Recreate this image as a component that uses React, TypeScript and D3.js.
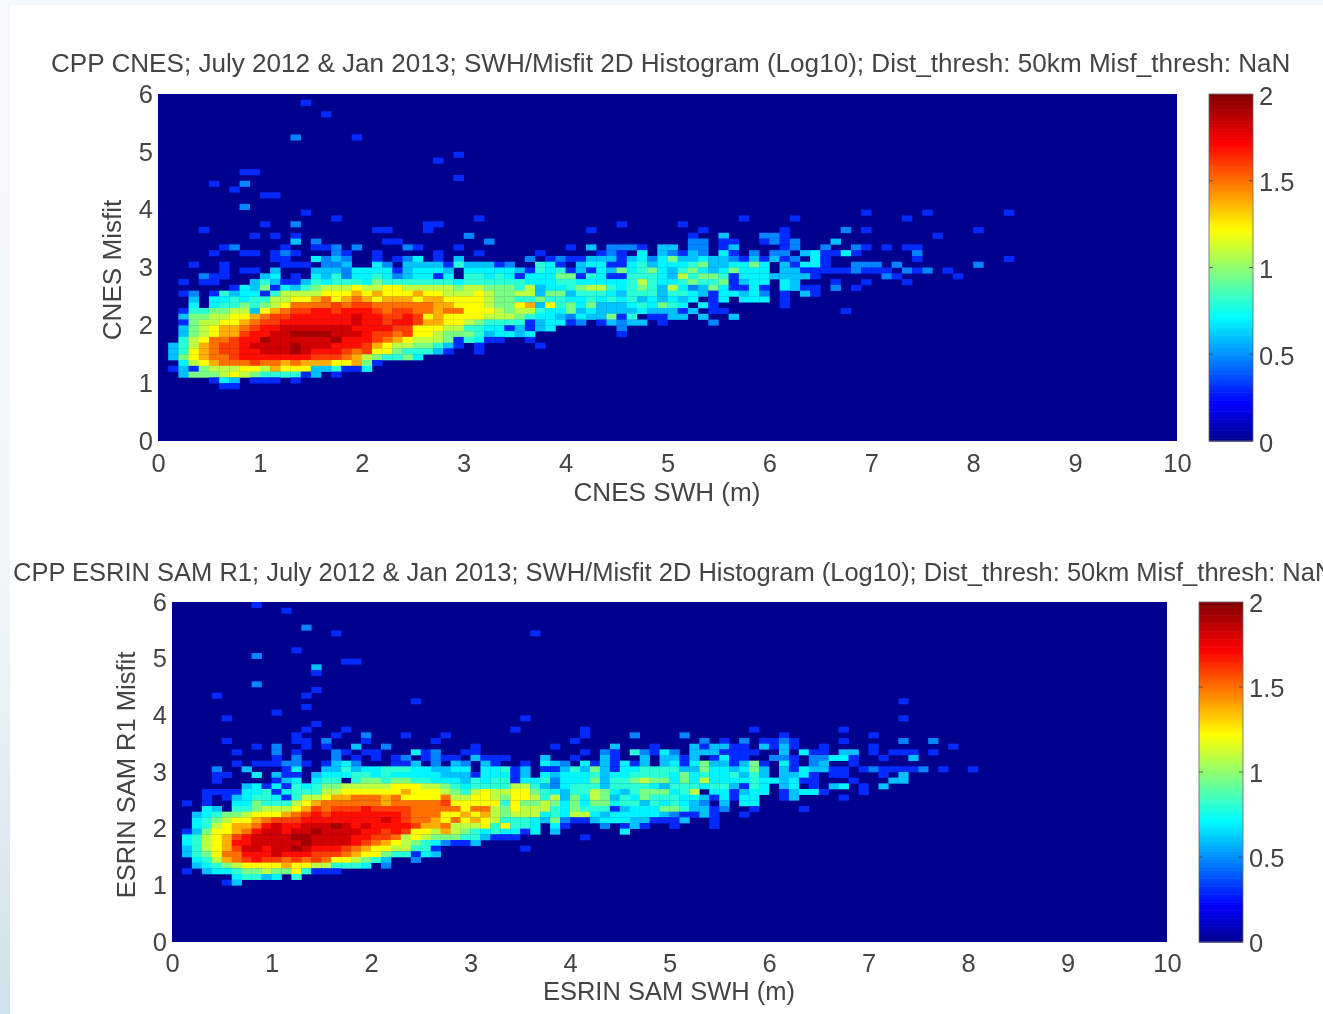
import React, { useRef, useEffect } from "react";
import * as d3 from "d3";

// Level codes, as log10(count) values.
const levelValues: Record<string, number> = {
  "1": 0.3, "2": 0.48, "3": 0.6, "4": 0.7, "5": 0.8, "6": 0.96, "7": 1.09,
  "8": 1.22, "9": 1.38, a: 1.5, b: 1.6, c: 1.7, d: 1.82, e: 1.92,
};

// One entry per misfit bin, top (5.9-6.0) down. Each group is "firstSwhBin:codes".
const cnesRows = [
  "", "14:1", "", "16:1", "", "", "", "13:2 19:1", "", "",
  "29:1", "27:1", "", "8:11", "29:1", "5:1 8:2", "7:1", "10:11", "", "8:2",
  "14:1 69:1 75:1 83:1",
  "17:1 31:1 57:1 62:1 73:1",
  "10:1 13:2 26:11 45:1 51:1",
  "4:1 21:11 26:1 42:1 53:1 61:1 67:2 69:1 80:1",
  "9:1 11:1 13:1 30:2 52:1 55:3 59:221 76:1",
  "13:3 15:2 22:11 32:2 52:22 55:11 59:1212 66:3",
  "6:12 12:1 15:112 19:2 24:21 29:1 40:1 42:3 44:2221 49:33 52:22 55:13 61:12 65:2 68:21 71:1 73:11",
  "5:1 8:11 11:121 17:21 21:1 27:1 31:1 37:1 43:121 47:4 49:32132 55:41 58:2 60:22 63:34 65:11 67:41 74:2",
  "11:11 15:4232 21:1 23:124 27:1 29:3 36:2.12113331342463343321313" + "12.41 74:1 83:1",
  "3:1 6:1 12:111 16:223 21:42 24:33331533312 37:541.344114" + "5344456334" + "464.31441 68:222 72:2 80:2",
  "6:1 8:11 11:3 15:33324" + "44413" + "4443." + "44444" + "31545" + "13143" + "64564" + "35643" + "46444" + ".3311" + "11121" + "11 73:212 77:1",
  "4:211 10:34 13:1 15:43524" + "45423" + "4414." + "55454" + "14446" + "61541" + "15554" + "37566" + "51444" + "33331 71:21 78:1",
  "2:1 4:11 9:353113" + "54555" + "46555" + "55554" + "55555" + "54445" + "54444" + "45754" + "45655" + "61344" + ".43 66:1 69:1 73:1",
  "7:14361435" + "67778" + "77887" + "77776" + "77666" + "57344" + "56775" + "45653" + "74236" + "41141" + ".4311 66:2 68:1",
  "2:12 5:1534415777" + "78889" + "89888" + "98877" + "78766" + "77366" + "35554" + "35553" + "55431" + "44342" + ".1.31",
  "3:3 5:4454557788" + "9a89a" + "98999" + "89988" + "88766" + "55655" + "44545" + "45343" + "434.1" + "4.444" + ".1",
  "3:4 5:45565678aa" + "aabab" + "baaaa" + "aa998" + "88766" + "89385" + "64633" + "34546" + "54.41 61:1",
  "2:1556677389abb" + "ccbcc" + "cbabb" + "aa9aa" + "88876" + "77544" + "63433" + "33433" + "313.1" + "1 67:1",
  "2:36677889abbcc" + "ccccd" + "ccbbc" + "b8988" + "88777" + "65443" + "24336" + "15.11" + "33.3 56:3",
  "2:1677889abbccc" + "ccccd" + "ccbcc" + "b9988" + "76555" + "51344" + "12.13" + "233.1 54:2",
  "2:367899abccddd" + "ddddc" + "cccbb" + "88877" + "55441" + "3134 45:2",
  "2:367899bccddee" + "eeddd" + "cbbab" + "88766" + "65344" + "34 45:1",
  "2:578aabccedddd" + "ddecc" + "cba98" + "77761" + "5411 36:1",
  "1:3579abbcdddded" + "ddccc" + "b9877" + "66531 31:1 37:1",
  "1:3589abbccddded" + "cccba" + "b8865" + "5531 31:1",
  "1:3689aabccccccc" + "bbba9" + "765564",
  "2:4789aaabaa9a9" + "9988961",
  "1:13167778879888" + "33511" + "4",
  "2:366678765555" + "13.1",
  "5:143 9:111 13:1",
  "6:11",
];

const esrinRows = [
  "8:1", "11:1", "", "", "13:2", "16:1 36:1", "", "", "12:1", "8:2",
  "17:11", "14:3", "14:1", "", "8:2", "14:1", "4:1 13:1", "24:1 73:1", "13:1", "10:1",
  "5:1 35:1 73:1",
  "14:1",
  "13:1 17:1 34:1 41:1 58:1 67:1",
  "12:1 16:1 19:2 23:1 27:1 41:1 46:2 51:2 61:1 70:1",
  "5:1 12:11 15:2 19:1 26:1 40:1 53:2 55:1 57:2 59:112 62:1 67:1 73:2 76:2",
  "8:1 10:2 13:1 15:1 18:3 21:2 30:1 38:1 44:3 48:1 52:313311.3131 65:1 70:1 78:1",
  "6:1 10:2 12:1 16:21 19:11 24:412 29:11 41:1 43:21 46:52142.3331111 61:3 63:411 67:33 70:1 72:111 76:1",
  "10:1 12:2 16:2 18:1 20:1 22:12 25:1211 30:3111 37:3 40:1 43:31 47:3 49:3313 54:1411 60:221 64:22441 71:1 74:3",
  "6:1 8:111221 15:1342 22:113 26:2 28:32 31:31 35:1.432 41:41314" + "13.34" + "14633" + "1361." + "41.23 68:1",
  "4:2 7:3 11:14 15:33534" + "45554" + "43344" + ".4451" + "3.113" + "53631" + "44555" + "53364" + "43463" + ".3143" + "311.1" + "21111" + "2 77:1 80:1",
  "4:11 8:4 10:311 14:3" + "44455" + "45444" + "44333" + "14441" + "3.434" + "44534" + "45555" + "46454" + "45353" + ".3341 66:11 71:1 73:3",
  "4:1 10:134 14:4" + "55.56" + "65665" + "54443" + "54551" + "44524" + "44635" + "56766" + "46474" + "44454" + "43411 68:1 72:33",
  "7:34141545" + "66777" + "77888" + "77654" + "55557" + "75324" + "55535" + "55543" + "55545" + "53154 61:34 64:1 66:34 69:1 71:3",
  "3:111144514555" + "77888" + "88898" + "88765" + "78778" + "86543" + "55764" + "35666" + "457.4" + "41344" + ".1344" + "1 69:1",
  "3:1 5:1345541577" + "899aa" + "a9a88" + "88a77" + "88768" + "87573" + "64763" + "54655" + "54431" + "4144 61:13 67:1",
  "1:1 3:1 6:446555789" + "aaaaa" + "a9aaa" + "aab88" + "88858" + "66764" + "64664" + "55354" + "5432." + "3.44",
  "3:43.55677789b" + "abbbc" + "bbbba" + "aaaa8" + "aa768" + "77754" + "65551" + "34446" + "65331" + "2 58:1 63:1",
  "2:3456678889abc" + "bcccc" + "cccba" + "aa889" + "89767" + "77454" + "77434" + "44443" + "21131 57:1",
  "2:4567889abbbcc" + "ccccc" + "cdcba" + "a98a8" + "98755" + "54362" + "11344" + "43311" + "13 54:1",
  "2:457899acdccdd" + "dedcd" + "ccccb" + "99a77" + "78585" + "54.41 43:2 45:131 50:1 54:1",
  "1:136889acddcdde" + "ddddc" + "cbcb8" + "87976" + "54544" + "14.3 45:4",
  "1:45789bcddddeed" + "dddcc" + "bba78" + "76665" + "53111 41:1",
  "1:45789ccddddded" + "dddcb" + "a9876" + "542113",
  "1:35789bddcddedc" + "ccba9" + "88775" + "51 35:1",
  "1:3568aacccdcccb" + "bba98" + "86551" + "43",
  "2:4579abcbbabab" + "a8876" + "53 24:2",
  "2:3456788889887" + "75554 21:2",
  "1:1 3:34456676685111",
  "6:45534.5",
  "5:13",
];

const xTicks = [0, 1, 2, 3, 4, 5, 6, 7, 8, 9, 10];
const yTicks = [0, 1, 2, 3, 4, 5, 6];
const barTicks = [0, 0.5, 1, 1.5, 2];

// MATLAB jet
const jet = d3
  .scaleLinear<string>()
  .domain([0, 0.22, 0.72, 1.22, 1.72, 2])
  .range(["#00008f", "#0000ff", "#00ffff", "#ffff00", "#ff0000", "#800000"])
  .clamp(true);

const textColor = "#444";
const fontFamily = "'Liberation Sans', Arial, sans-serif";

const parseRows = (rows: string[]) => {
  const cells: { col: number; row: number; value: number }[] = [];
  rows.forEach((line, row) => {
    if (!line) return;
    line.split(" ").forEach((group) => {
      const [start, codes] = group.split(":");
      codes.split("").forEach((code, i) => {
        if (code !== ".") cells.push({ col: +start + i, row, value: levelValues[code] });
      });
    });
  });
  return cells;
};

const Panel = ({ box, bar, rows, title, titleX, titleY, labelSize, xTickPad, xLabel, xLabelPos, yLabel, yLabelPos }: any) => {
  const gRef = useRef<SVGGElement>(null);

  useEffect(() => {
    const g = d3.select(gRef.current);
    g.selectAll("*").remove();

    const x = d3.scaleLinear().domain([0, 10]).range([box.x0, box.x1]);
    const y = d3.scaleLinear().domain([0, 6]).range([box.y1, box.y0]);
    const barY = d3.scaleLinear().domain([0, 2]).range([box.y1, box.y0]);

    g.append("rect")
      .attr("x", box.x0)
      .attr("y", box.y0)
      .attr("width", box.x1 - box.x0)
      .attr("height", box.y1 - box.y0)
      .attr("fill", jet(0));

    // histogram cells, 0.1 x 0.1 bins
    g.append("g")
      .attr("filter", "url(#soft)")
      .selectAll("rect")
      .data(parseRows(rows))
      .join("rect")
      .attr("x", (d) => x(d.col / 10))
      .attr("y", (d) => y(6 - d.row / 10))
      .attr("width", x(0.1) - x(0) + 0.3)
      .attr("height", y(0) - y(0.1) + 0.3)
      .attr("fill", (d) => jet(d.value));

    const styleAxis = (a: any, size = 25.5) => {
      a.select(".domain").remove();
      a.selectAll("line").remove();
      a.selectAll("text")
        .attr("fill", textColor)
        .attr("font-size", size)
        .attr("font-family", fontFamily);
    };

    g.append("g")
      .attr("transform", `translate(0,${box.y1})`)
      .call(d3.axisBottom(x).tickValues(xTicks).tickFormat(d3.format("d") as any).tickSize(0).tickPadding(xTickPad))
      .call(styleAxis);

    g.append("g")
      .attr("transform", `translate(${box.x0},0)`)
      .call(d3.axisLeft(y).tickValues(yTicks).tickFormat(d3.format("d") as any).tickSize(0).tickPadding(5))
      .call(styleAxis);

    // colour bar
    const barStep = 2 / 128;
    const steps = d3.range(0, 2, barStep);
    g.append("g")
      .selectAll("rect")
      .data(steps)
      .join("rect")
      .attr("x", bar.x0)
      .attr("y", (d) => barY(d + barStep))
      .attr("width", bar.x1 - bar.x0)
      .attr("height", (box.y1 - box.y0) / 128 + 0.6)
      .attr("fill", (d) => jet(d + barStep / 2));
    g.append("rect")
      .attr("x", bar.x0)
      .attr("y", box.y0)
      .attr("width", bar.x1 - bar.x0)
      .attr("height", box.y1 - box.y0)
      .attr("fill", "none")
      .attr("stroke", "#666")
      .attr("stroke-width", 0.8);

    g.append("g")
      .attr("transform", `translate(${bar.x1},${bar.labelShift})`)
      .call(d3.axisRight(barY).tickValues(barTicks).tickFormat((d) => String(d)).tickSize(0).tickPadding(6))
      .call(styleAxis);

    // tiny ticks on both sides of the bar
    barTicks.slice(1, -1).forEach((t) => {
      [[bar.x0, bar.x0 + 4], [bar.x1 - 4, bar.x1]].forEach(([a, b]) => {
        g.append("line")
          .attr("x1", a)
          .attr("x2", b)
          .attr("y1", barY(t))
          .attr("y2", barY(t))
          .attr("stroke", "#444")
          .attr("stroke-width", 0.8);
      });
    });

    const label = (s: string, px: number, py: number, anchor: string, rot = 0) =>
      g.append("text")
        .attr("transform", `translate(${px},${py}) rotate(${rot})`)
        .attr("text-anchor", anchor)
        .attr("dominant-baseline", "central")
        .attr("fill", textColor)
        .attr("font-size", labelSize)
        .attr("font-family", fontFamily)
        .text(s);

    label(title, titleX, titleY, "start");
    label(xLabel, xLabelPos[0], xLabelPos[1], "middle");
    label(yLabel, yLabelPos[0], yLabelPos[1], "middle", -90);
  }, []);

  return <g ref={gRef}></g>;
};

const App = () => {
  return (
    <svg
      width={1323}
      height={1014}
      style={{ position: "absolute", left: 0, top: 0, display: "block" }}
    >
      <defs>
        <linearGradient id="edge" x1="0" y1="0" x2="0" y2="1">
          <stop offset="0" stopColor="#f6f9fc" />
          <stop offset="0.6" stopColor="#f0f6f8" />
          <stop offset="1" stopColor="#cfe1e9" />
        </linearGradient>
        <filter id="soft" x="-5%" y="-5%" width="110%" height="110%">
          <feGaussianBlur stdDeviation="0.6" />
        </filter>
      </defs>
      <rect width={1323} height={1014} fill="url(#edge)" />
      <rect x={10} y={5} width={1313} height={1009} fill="#fff" />
      <g style={{ filter: "blur(0.45px)" }}>
        <Panel
          box={{ x0: 158, x1: 1177, y0: 94, y1: 441 }}
          bar={{ x0: 1209, x1: 1253, labelShift: 2 }}
          rows={cnesRows}
          title="CPP CNES; July 2012 & Jan 2013; SWH/Misfit 2D Histogram (Log10); Dist_thresh: 50km Misf_thresh: NaN"
          titleX={51}
          titleY={63}
          labelSize={26.1}
          xTickPad={13}
          xLabel="CNES SWH (m)"
          xLabelPos={[667, 492]}
          yLabel="CNES Misfit"
          yLabelPos={[112, 270]}
        />
        {/* this title runs off the right edge in the original too */}
        <Panel
          box={{ x0: 172, x1: 1167, y0: 602, y1: 942 }}
          bar={{ x0: 1199, x1: 1243, labelShift: 1 }}
          rows={esrinRows}
          title="CPP ESRIN SAM R1; July 2012 & Jan 2013; SWH/Misfit 2D Histogram (Log10); Dist_thresh: 50km Misf_thresh: NaN"
          titleX={13}
          titleY={572}
          labelSize={25.5}
          xTickPad={12}
          xLabel="ESRIN SAM SWH (m)"
          xLabelPos={[669, 991]}
          yLabel="ESRIN SAM R1 Misfit"
          yLabelPos={[126, 775]}
        />
      </g>
    </svg>
  );
};

export default App;
